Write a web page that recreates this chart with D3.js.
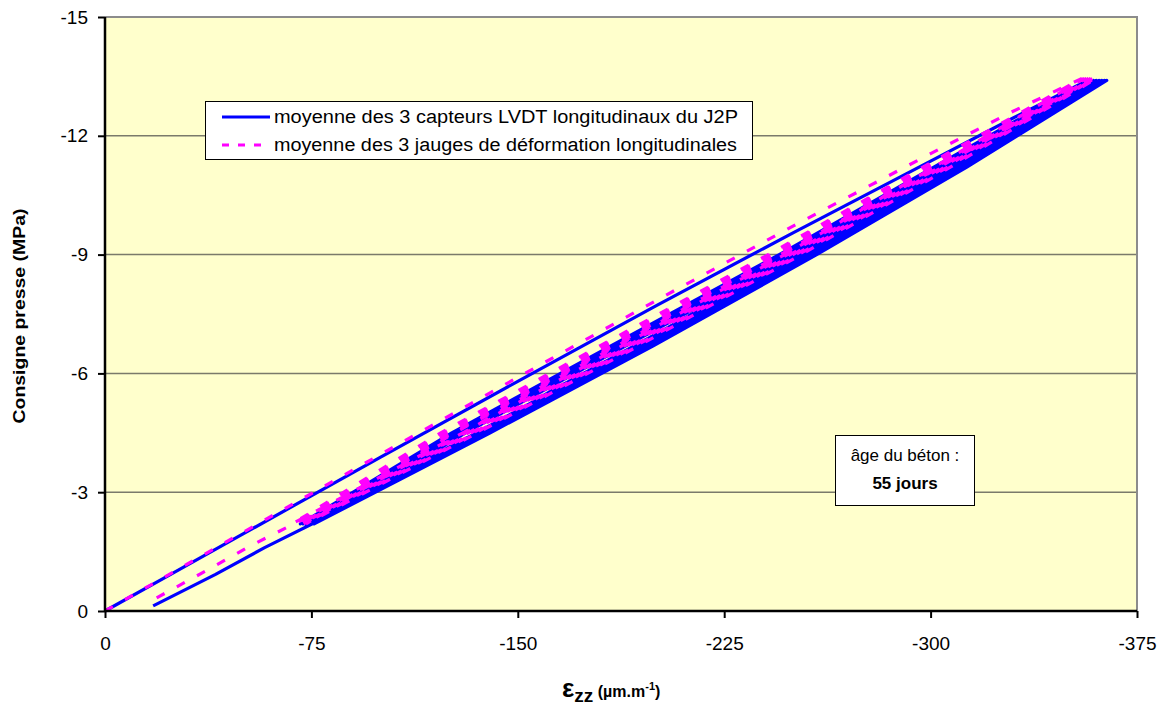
<!DOCTYPE html>
<html>
<head>
<meta charset="utf-8">
<script src="https://cdn.jsdelivr.net/npm/d3@7"></script>
<style>
  html, body { margin: 0; padding: 0; background: #ffffff; }
  svg text { font-family: "Liberation Sans", Arial, sans-serif; }
</style>
</head>
<body>
<svg id="chart" width="1168" height="710"></svg>
<script>
// ---------------- DATA ----------------
const xTicks = [0, -75, -150, -225, -300, -375];
const yTicks = [0, -3, -6, -9, -12, -15];
const xDomain = [0, -375];
const yDomain = [0, -15];

const seriesNames = [
  "moyenne des 3 capteurs LVDT longitudinaux du J2P",
  "moyenne des 3 jauges de déformation longitudinales"
];

// LVDT average: strain (µm/m) and stress (MPa), path in time order
const lvdtStrain = [
  0, -25, -50, -100, -150, -200, -250, -300, -330, -357,
  -301, -245, -184, -126, -71,        -135, -193, -252, -306, -358,
  -302, -246, -185, -127, -72,        -136, -194, -253.2, -307.2, -359.2,
  -303, -247, -186, -127.8, -72.8,    -136.8, -195.2, -254.2, -308.4, -360.2,
  -304.2, -248, -187, -128.6, -73.6,  -137.6, -196.2, -255.2, -309.6, -361.2,
  -305, -249, -187.8, -129.5, -74.5,  -138.4, -197.2, -256.4, -310.6, -362.2,
  -306, -249.8, -188.6, -130.2, -75.2, -139.2, -198.4, -257.6, -311.8, -363.2,
  -307, -250.6, -189.4, -131, -76,    -140, -199.4, -258.6, -313, -364,
  -318, -262, -203, -162, -139, -107, -85.4, -58, -40, -17.5
];
const lvdtStress = [
  0, -0.97, -1.94, -3.88, -5.8, -7.7, -9.55, -11.36, -12.45, -13.4,
  -11.2, -9.0, -6.7, -4.5, -2.2,  -4.5, -6.7, -9.0, -11.2, -13.4,
  -11.2, -9.0, -6.7, -4.5, -2.2,  -4.5, -6.7, -9.0, -11.2, -13.4,
  -11.2, -9.0, -6.7, -4.5, -2.2,  -4.5, -6.7, -9.0, -11.2, -13.4,
  -11.2, -9.0, -6.7, -4.5, -2.2,  -4.5, -6.7, -9.0, -11.2, -13.4,
  -11.2, -9.0, -6.7, -4.5, -2.2,  -4.5, -6.7, -9.0, -11.2, -13.4,
  -11.2, -9.0, -6.7, -4.5, -2.2,  -4.5, -6.7, -9.0, -11.2, -13.4,
  -11.2, -9.0, -6.7, -4.5, -2.2,  -4.5, -6.7, -9.0, -11.2, -13.4,
  -11.6, -9.4, -7.1, -5.55, -4.6, -3.36, -2.55, -1.6, -0.92, -0.13
];

// Strain gauges average
const gaugeStrain = [
  0, -25, -50, -100, -150, -200, -250, -300, -330, -355,
  -297, -241, -180, -122, -68,        -130, -188, -247, -301, -355.8,
  -298, -242, -181, -123, -69,        -131, -189, -248, -302, -356.6,
  -299, -243, -182, -123.8, -69.8,    -132, -190, -249, -303, -357.4,
  -300, -244, -183, -124.6, -70.6,    -133, -191, -250, -304, -358.2,
  -301, -245, -183.8, -125.4, -71.4,  -133.8, -192, -251, -305, -359,
  -302, -245.8, -184.6, -126.2, -72.2, -134.6, -193, -252, -306, -359.6,
  -303, -246.6, -185.4, -127, -73,    -135.4, -194, -253, -307, -360.2,
  -313, -257, -198, -157, -134, -102, -80, -53, -35, -14.5
];
const gaugeStress = [
  0, -0.99, -1.98, -3.95, -5.9, -7.83, -9.72, -11.55, -12.62, -13.45,
  -11.2, -9.0, -6.7, -4.5, -2.2,  -4.5, -6.7, -9.0, -11.2, -13.45,
  -11.2, -9.0, -6.7, -4.5, -2.2,  -4.5, -6.7, -9.0, -11.2, -13.45,
  -11.2, -9.0, -6.7, -4.5, -2.2,  -4.5, -6.7, -9.0, -11.2, -13.45,
  -11.2, -9.0, -6.7, -4.5, -2.2,  -4.5, -6.7, -9.0, -11.2, -13.45,
  -11.2, -9.0, -6.7, -4.5, -2.2,  -4.5, -6.7, -9.0, -11.2, -13.45,
  -11.2, -9.0, -6.7, -4.5, -2.2,  -4.5, -6.7, -9.0, -11.2, -13.45,
  -11.2, -9.0, -6.7, -4.5, -2.2,  -4.5, -6.7, -9.0, -11.2, -13.45,
  -11.65, -9.45, -7.15, -5.6, -4.65, -3.4, -2.6, -1.65, -0.95, -0.17
];

const ageLine1 = "âge du béton :";
const ageLine2 = "55 jours";

// ---------------- DRAWING ----------------
const svg = d3.select("#chart");
const plot = { left: 105, right: 1137, top: 17, bottom: 611 };

const x = d3.scaleLinear().domain(xDomain).range([plot.left, plot.right]);
const y = d3.scaleLinear().domain(yDomain).range([plot.bottom, plot.top]);

// plot background
svg.append("rect")
  .attr("x", plot.left).attr("y", plot.top)
  .attr("width", plot.right - plot.left).attr("height", plot.bottom - plot.top)
  .attr("fill", "#ffffcc");

// gridlines
svg.append("g").selectAll("line")
  .data(yTicks.filter(d => d !== 0 && d !== -15))
  .join("line")
  .attr("x1", plot.left).attr("x2", plot.right)
  .attr("y1", d => y(d)).attr("y2", d => y(d))
  .attr("stroke", "#7a7a6a").attr("stroke-width", 1.5);

// top / right frame
svg.append("path")
  .attr("d", `M${plot.left},${plot.top}H${plot.right}V${plot.bottom}`)
  .attr("fill", "none").attr("stroke", "#8c8c8c").attr("stroke-width", 2);

// series lines
const line = d3.line().x(d => x(d[0])).y(d => y(d[1]));
const lvdtPts = lvdtStrain.map((s, i) => [s, lvdtStress[i]]);
const gaugePts = gaugeStrain.map((s, i) => [s, gaugeStress[i]]);

svg.append("clipPath").attr("id", "clip")
  .append("rect").attr("x", plot.left - 2).attr("y", plot.top)
  .attr("width", plot.right - plot.left + 2).attr("height", plot.bottom - plot.top + 2);

const gSeries = svg.append("g").attr("clip-path", "url(#clip)");
gSeries.append("path").datum(lvdtPts)
  .attr("d", line).attr("fill", "none")
  .attr("stroke", "#0000ff").attr("stroke-width", 3.2)
  .attr("stroke-linejoin", "round");
gSeries.append("path").datum(gaugePts)
  .attr("d", line).attr("fill", "none")
  .attr("stroke", "#ff00ff").attr("stroke-width", 3.2)
  .attr("stroke-dasharray", "9,14");

// axes
const fmt = d => d3.format("d")(d).replace("−", "-");
const yAxis = d3.axisLeft(y).tickValues(yTicks).tickSize(7).tickPadding(10).tickFormat(fmt);
const xAxis = d3.axisBottom(x).tickValues(xTicks).tickSize(7).tickPadding(19).tickFormat(fmt);

const gy = svg.append("g").attr("transform", `translate(${plot.left},0)`).call(yAxis);
const gx = svg.append("g").attr("transform", `translate(0,${plot.bottom})`).call(xAxis);
[gy, gx].forEach(g => {
  g.select(".domain").attr("stroke", "#000").attr("stroke-width", 2.5);
  g.selectAll(".tick line").attr("stroke", "#000").attr("stroke-width", 2);
  g.selectAll(".tick text").attr("fill", "#000")
    .style("font-size", "19px")
    .style("font-family", "'Liberation Sans', Arial, sans-serif");
});
gx.select(".domain").attr("d", `M${plot.left},0H${plot.right}`);
gy.select(".domain").attr("d", `M0,${plot.bottom}V${plot.top}`);

// y-axis title
svg.append("text")
  .attr("transform", `translate(25,316) rotate(-90)`)
  .attr("text-anchor", "middle")
  .attr("textLength", 215).attr("lengthAdjust", "spacingAndGlyphs")
  .style("font-size", "17px").style("font-weight", "bold")
  .text("Consigne presse (MPa)");

// x-axis title
const xt = svg.append("text")
  .attr("x", 562).attr("y", 697)
  .style("font-weight", "bold");
xt.append("tspan").style("font-size", "26px").text("ε");
xt.append("tspan").style("font-size", "19px").attr("dy", 5).text("zz");
xt.append("tspan").style("font-size", "16px").attr("dy", -5).text(" (µm.m");
xt.append("tspan").style("font-size", "11px").attr("dy", -7).text("-1");
xt.append("tspan").style("font-size", "16px").attr("dy", 7).text(")");

// legend
const lg = svg.append("g");
lg.append("rect").attr("x", 205.5).attr("y", 101.5).attr("width", 547).attr("height", 58)
  .attr("fill", "#ffffff").attr("stroke", "#000").attr("stroke-width", 1);
const legendColors = ["#0000ff", "#ff00ff"];
const legendDash = [null, "7,9"];
const legendLen = [464, 463];
seriesNames.forEach((name, i) => {
  const yy = 117 + i * 28;
  lg.append("line").attr("x1", 222).attr("x2", 270).attr("y1", yy).attr("y2", yy)
    .attr("stroke", legendColors[i]).attr("stroke-width", 3)
    .attr("stroke-dasharray", legendDash[i]);
  lg.append("text").attr("x", 274).attr("y", yy + 6)
    .attr("textLength", legendLen[i]).attr("lengthAdjust", "spacingAndGlyphs")
    .style("font-size", "18px").text(name);
});

// annotation box
const ab = svg.append("g");
ab.append("rect").attr("x", 835.5).attr("y", 435.5).attr("width", 139).attr("height", 70)
  .attr("fill", "#ffffff").attr("stroke", "#000").attr("stroke-width", 1);
ab.append("text").attr("x", 905).attr("y", 461).attr("text-anchor", "middle")
  .style("font-size", "17px").text(ageLine1);
ab.append("text").attr("x", 905).attr("y", 489).attr("text-anchor", "middle")
  .style("font-size", "17px").style("font-weight", "bold").text(ageLine2);
</script>
</body>
</html>
